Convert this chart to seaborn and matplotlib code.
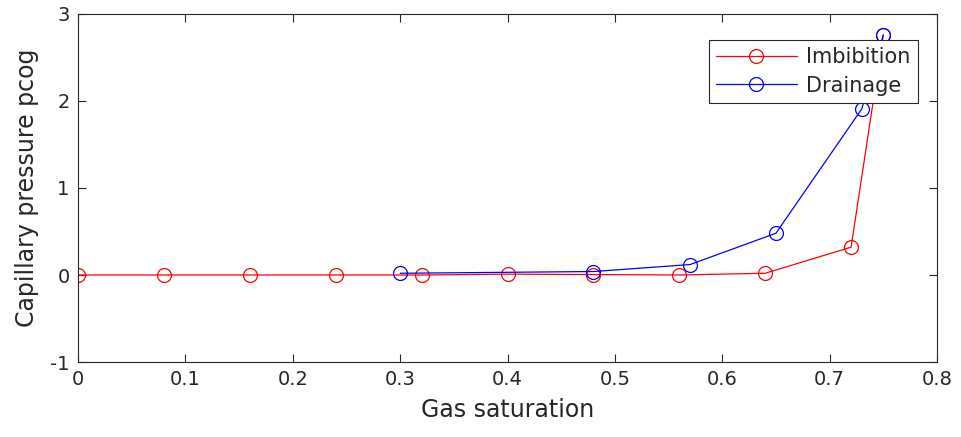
import matplotlib
matplotlib.use("Agg")
import matplotlib.pyplot as plt
import seaborn as sns
import pandas as pd

# Capillary pressure curves
imb_sg = [0.0, 0.08, 0.16, 0.24, 0.32, 0.40, 0.48, 0.56, 0.64, 0.72, 0.75]
imb_pc = [0.0, 0.0, 0.0, 0.0, 0.0, 0.01, 0.005, 0.0, 0.02, 0.32, 2.76]
dra_sg = [0.30, 0.48, 0.57, 0.65, 0.73, 0.75]
dra_pc = [0.02, 0.04, 0.12, 0.48, 1.91, 2.76]

x_ticks = [0, 0.1, 0.2, 0.3, 0.4, 0.5, 0.6, 0.7, 0.8]
x_tick_labels = ["0", "0.1", "0.2", "0.3", "0.4", "0.5", "0.6", "0.7", "0.8"]
y_ticks = [-1, 0, 1, 2, 3]
y_tick_labels = ["-1", "0", "1", "2", "3"]

sns.set_theme(style="white")
plt.rcParams["font.family"] = ["DejaVu Sans"]

axis_grey = "#262626"
fig = plt.figure(figsize=(9.62, 4.37), dpi=100)
ax = fig.add_axes([0.0811, 0.1716, 0.974 - 0.0811, 0.968 - 0.1716])

imb = pd.DataFrame({"sg": imb_sg, "pc": imb_pc})
dra = pd.DataFrame({"sg": dra_sg, "pc": dra_pc})

common = dict(marker="o", markersize=10, markerfacecolor="none",
              markeredgewidth=0.9, linewidth=0.9, sort=False, estimator=None)
sns.lineplot(data=imb, x="sg", y="pc", ax=ax, color="red",
             markeredgecolor="red", label="Imbibition", **common)
sns.lineplot(data=dra, x="sg", y="pc", ax=ax, color="blue",
             markeredgecolor="blue", label="Drainage", **common)

ax.set_xlim(0, 0.8)
ax.set_ylim(-1, 3)
ax.set_xticks(x_ticks)
ax.set_xticklabels(x_tick_labels)
ax.set_yticks(y_ticks)
ax.set_yticklabels(y_tick_labels)

ax.set_xlabel("Gas saturation", fontsize=17, color=axis_grey, labelpad=6)
ax.set_ylabel("Capillary pressure pcog", fontsize=17, color=axis_grey, labelpad=8)

ax.tick_params(direction="in", length=6, width=0.8, colors=axis_grey,
               labelsize=14, top=True, right=True, bottom=True, left=True,
               pad=6)
for side in ax.spines.values():
    side.set_visible(True)
    side.set_color(axis_grey)
    side.set_linewidth(0.8)

leg = ax.legend(loc="upper right", bbox_to_anchor=(0.978, 0.925),
                fontsize=15, frameon=True, fancybox=False, framealpha=1,
                edgecolor=axis_grey, borderaxespad=0, handlelength=3.9,
                handletextpad=0.45, borderpad=0.35, labelspacing=0.4)
leg.get_frame().set_linewidth(0.8)
for t in leg.get_texts():
    t.set_color(axis_grey)

fig.savefig("out.png", dpi=100)
